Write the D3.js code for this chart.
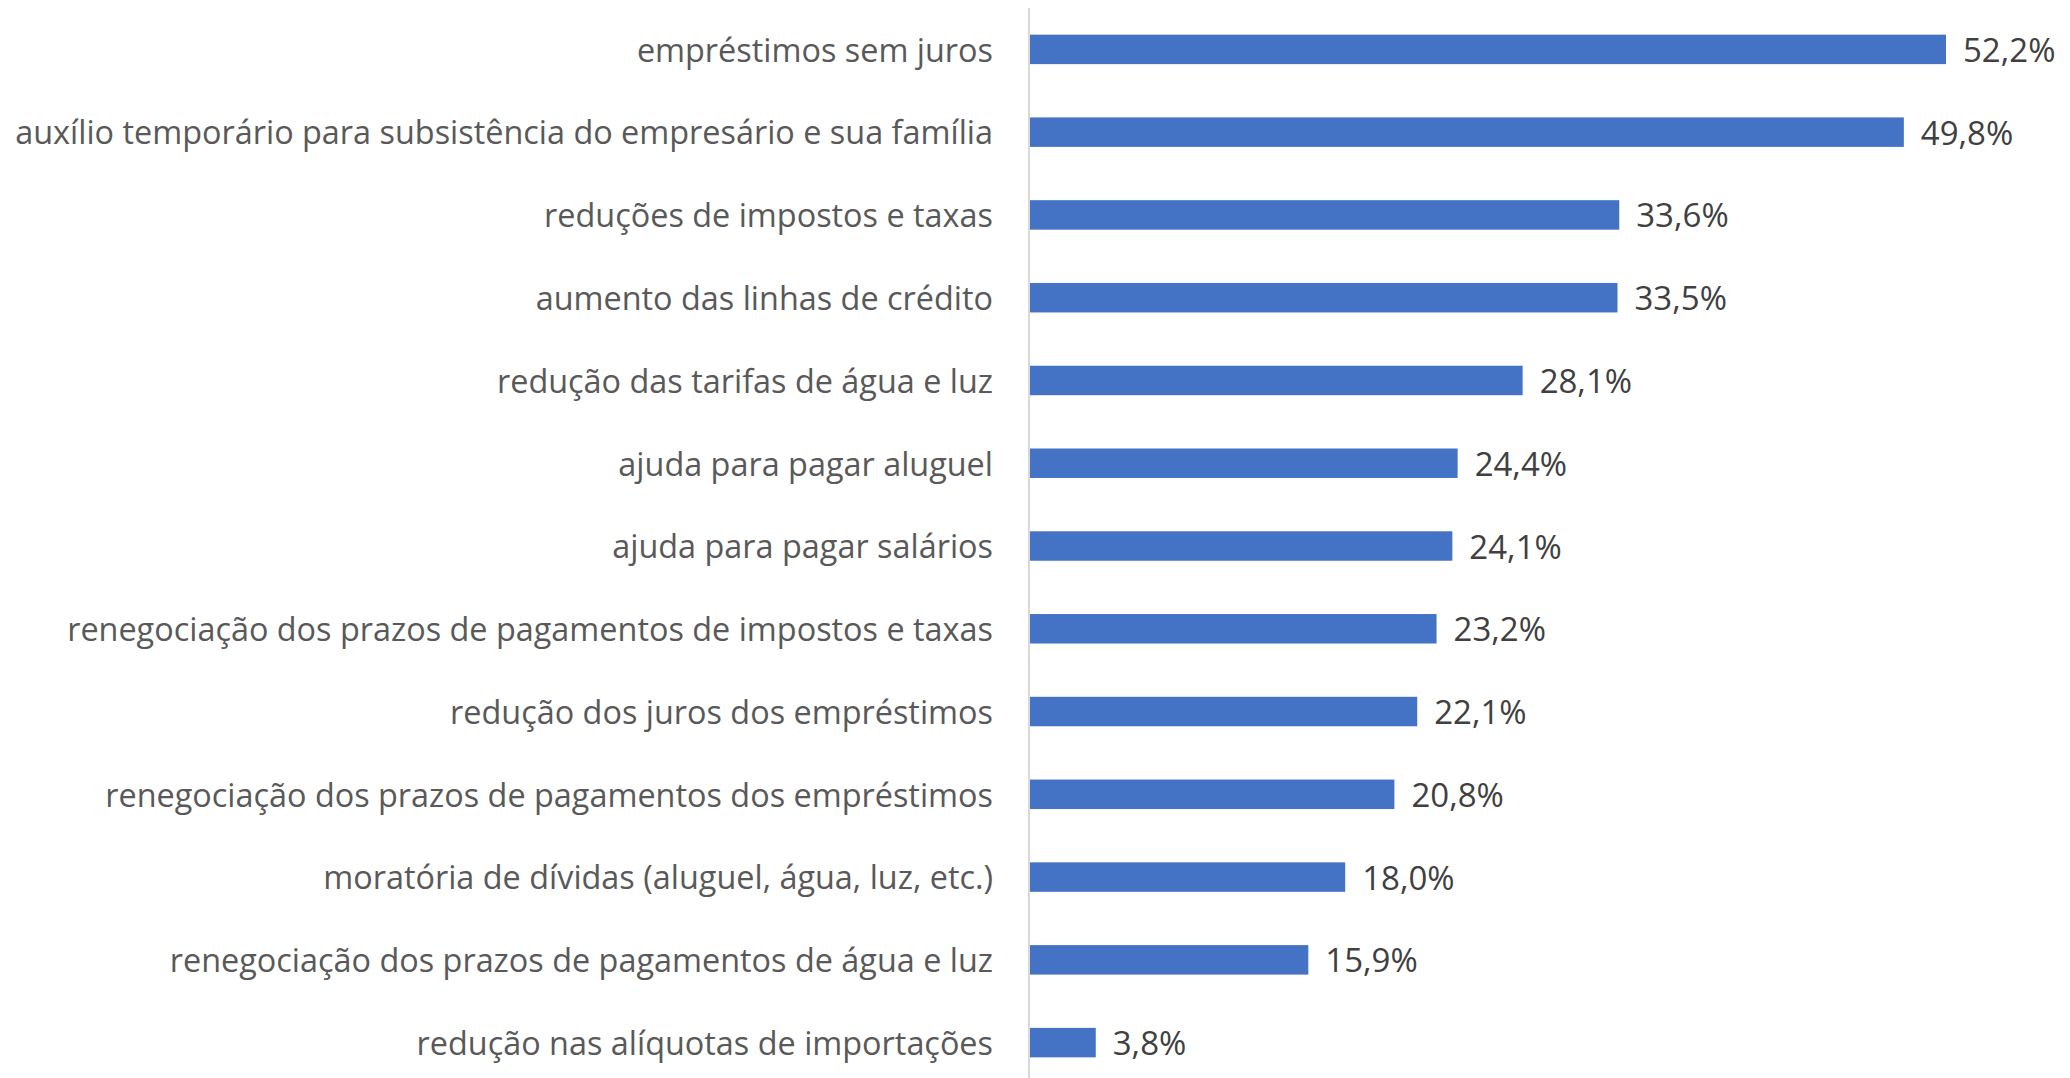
<!DOCTYPE html>
<html>
<head>
<meta charset="utf-8">
<script src="https://cdn.jsdelivr.net/npm/d3@7"></script>
<style>
  body { margin: 0; background: #fff; }
  text { font-family: "Open Sans", sans-serif; }
</style>
</head>
<body>
<svg id="chart" width="2070" height="1078"></svg>
<script>
// categories, top to bottom
const categories = [
  "empréstimos sem juros",
  "auxílio temporário para subsistência do empresário e sua família",
  "reduções de impostos e taxas",
  "aumento das linhas de crédito",
  "redução das tarifas de água e luz",
  "ajuda para pagar aluguel",
  "ajuda para pagar salários",
  "renegociação dos prazos de pagamentos de impostos e taxas",
  "redução dos juros dos empréstimos",
  "renegociação dos prazos de pagamentos dos empréstimos",
  "moratória de dívidas (aluguel, água, luz, etc.)",
  "renegociação dos prazos de pagamentos de água e luz",
  "redução nas alíquotas de importações"
];
const values = [52.2, 49.8, 33.6, 33.5, 28.1, 24.4, 24.1, 23.2, 22.1, 20.8, 18.0, 15.9, 3.8];

const width = 2070;
const height = 1078;
const axisX = 1029;

const svg = d3.select("#chart");

const x = d3.scaleLinear().domain([0, 52.2]).range([axisX, 1946]);
const y = d3.scaleBand()
  .domain(categories)
  .range([8, 1084])
  .paddingInner(0.644)
  .paddingOuter(0.322);

const fmt = v => d3.format(".1f")(v).replace(".", ",") + "%";

// bars
svg.selectAll(".bar")
  .data(values)
  .enter()
  .append("rect")
  .attr("class", "bar")
  .attr("x", x(0))
  .attr("y", (d, i) => y(categories[i]))
  .attr("width", d => x(d) - x(0))
  .attr("height", y.bandwidth())
  .attr("fill", "#4472C4");

// vertical axis line
svg.append("line")
  .attr("x1", axisX).attr("x2", axisX)
  .attr("y1", 8).attr("y2", height)
  .attr("stroke", "#d9d9d9")
  .attr("stroke-width", 2);

// category labels
const yAxis = d3.axisLeft(y).tickSize(0).tickPadding(36);
const g = svg.append("g")
  .attr("transform", `translate(${axisX}, 0)`)
  .call(yAxis);
g.select(".domain").remove();
g.selectAll("text")
  .attr("font-family", "'Open Sans', sans-serif")
  .attr("font-size", 32.4)
  .attr("dy", "0.38em")
  .attr("fill", "#595959");

// value labels
svg.selectAll(".val")
  .data(values)
  .enter()
  .append("text")
  .attr("class", "val")
  .attr("x", d => x(d) + 17)
  .attr("y", (d, i) => y(categories[i]) + y.bandwidth() / 2)
  .attr("dy", "0.38em")
  .attr("font-size", 33)
  .attr("fill", "#404040")
  .text(d => fmt(d));
</script>
</body>
</html>
